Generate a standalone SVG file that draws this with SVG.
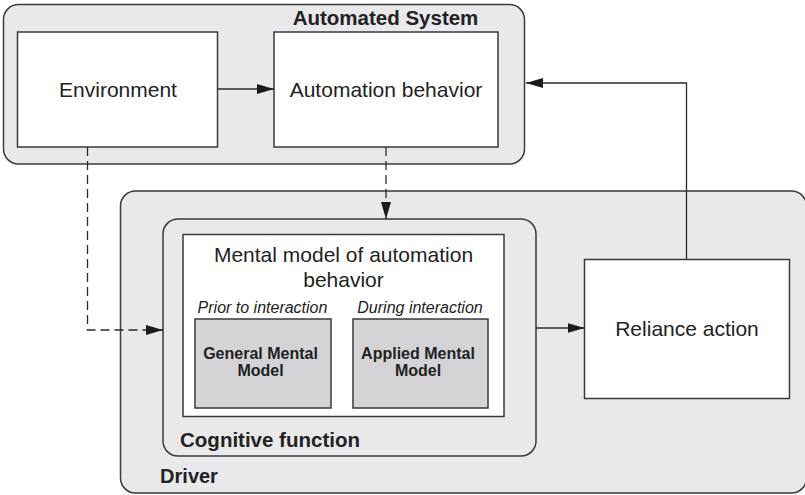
<svg xmlns="http://www.w3.org/2000/svg" width="805" height="495" viewBox="0 0 805 495">
<defs>
<style>
.grp{fill:#e9e9eb;stroke:#3a3a3a;stroke-width:1.5}
.box{fill:#ffffff;stroke:#3a3a3a;stroke-width:1.5}
.gbox{fill:#d4d4d6;stroke:#3a3a3a;stroke-width:1.5}
.t{font-family:"Liberation Sans",Arial,sans-serif;fill:#222;text-anchor:middle}
.r{font-size:21px}
.b{font-weight:bold}
.i{font-style:italic;font-size:16px}
.line{fill:none;stroke:#2a2a2a;stroke-width:1.3}
.dash{stroke-dasharray:9 5}
</style>
<marker id="ah" viewBox="0 0 17 10" refX="17" refY="5" markerWidth="17" markerHeight="10" markerUnits="userSpaceOnUse" orient="auto">
<path d="M0,0 L17,5 L0,10 Z" fill="#1a1a1a"/>
</marker>
</defs>
<rect width="805" height="495" fill="#ffffff"/>
<g id="automated-system">
<rect class="grp" x="3.5" y="4.5" width="521" height="159.5" rx="15"/>
<text class="t b" x="385.5" y="25" font-size="20.5">Automated System</text>
</g>
<g id="driver">
<rect class="grp" x="120.5" y="191" width="686" height="302" rx="15"/>
<text class="t b" x="189" y="483" font-size="20">Driver</text>
</g>
<g id="environment">
<rect class="box" x="17.5" y="32" width="200" height="115"/>
<text class="t r" x="118" y="97">Environment</text>
</g>
<g id="automation-behavior">
<rect class="box" x="274" y="32" width="224" height="115"/>
<text class="t r" x="386" y="97">Automation behavior</text>
</g>
<g id="cognitive-function">
<rect class="grp" x="163" y="219" width="373" height="237" rx="15"/>
<text class="t b" x="270" y="447" font-size="20.5">Cognitive function</text>
</g>
<g id="mental-model">
<rect class="box" x="183" y="234.5" width="321" height="182"/>
<text class="t r" x="343.5" y="262">Mental model of automation</text>
<text class="t r" x="343.5" y="287">behavior</text>
<text class="t i" x="262.5" y="313">Prior to interaction</text>
<text class="t i" x="420" y="313">During interaction</text>
</g>
<g id="general-mental-model">
<rect class="gbox" x="195" y="319" width="136" height="89"/>
<text class="t b" x="260.5" y="359" font-size="16">General Mental</text>
<text class="t b" x="260.5" y="376" font-size="16">Model</text>
</g>
<g id="applied-mental-model">
<rect class="gbox" x="353" y="319" width="135" height="89"/>
<text class="t b" x="418" y="359" font-size="16">Applied Mental</text>
<text class="t b" x="418" y="376" font-size="16">Model</text>
</g>
<g id="reliance-action">
<rect class="box" x="584.5" y="259.5" width="205" height="139"/>
<text class="t r" x="687" y="336">Reliance action</text>
</g>
<g id="connectors">
<path class="line" d="M217.5,89 L274,89" marker-end="url(#ah)"/>
<path class="line" d="M686.5,259.5 L686.5,83 L526,83" marker-end="url(#ah)"/>
<path class="line" d="M536,328 L584.5,328" marker-end="url(#ah)"/>
<path class="line dash" d="M87.5,147 L87.5,330 L163,330" marker-end="url(#ah)"/>
<path class="line dash" d="M386,147 L386,219" marker-end="url(#ah)"/>
</g>
</svg>
